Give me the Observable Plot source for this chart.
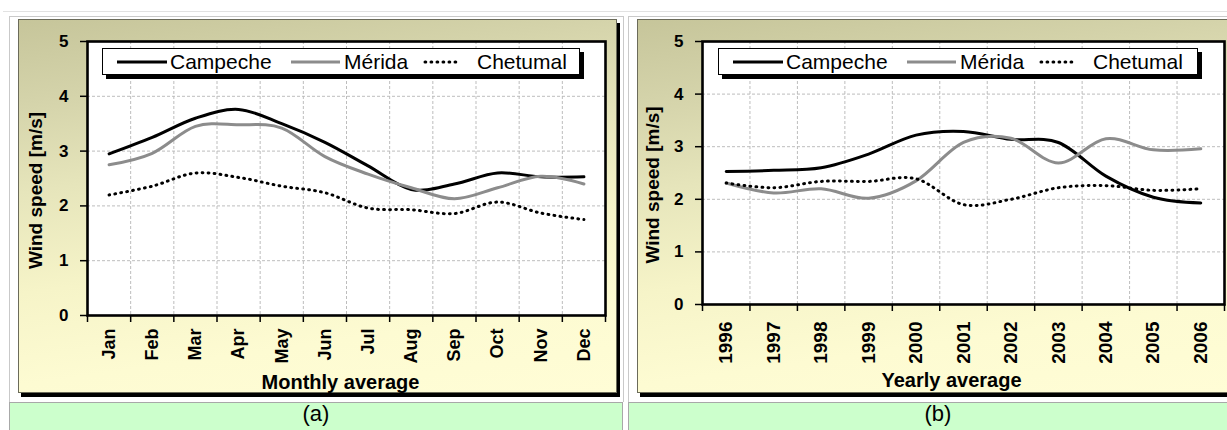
<!DOCTYPE html>
<html>
<head>
<meta charset="utf-8">
<script src="https://cdn.jsdelivr.net/npm/d3@7"></script>
<script src="https://cdn.jsdelivr.net/npm/@observablehq/plot@0.6"></script>
<style>
  body { margin: 0; width: 1227px; height: 430px; overflow: hidden; background: #fff; position: relative;
         font-family: "Liberation Sans", Arial, sans-serif; }
  .topline { position: absolute; left: 3px; top: 11px; width: 1224px; border-top: 1px solid #e2e2e2; }
  .cell { position: absolute; top: 16px; height: 386px; border: 1px solid #c9c9c9; border-bottom: none; box-sizing: border-box; }
  .frame { position: absolute; top: 19px; height: 374px; box-sizing: border-box;
           background: linear-gradient(172deg, #c6c59a 0%, #d4d3aa 18%, #e6e5bb 38%, #f6f4c8 60%, #fdfbd2 80%, #fffdd6 100%);
           box-shadow: inset 0 0 0 1px #6b6b5a, 3px 4px 0 #000; }
  .frame svg { position: absolute; left: 0; top: 0; }
  .legend { position: absolute; top: 29px; height: 27px; background: #fff; border: 1px solid #000;
            box-sizing: border-box; box-shadow: 4px 4px 0 #000; }
  .legend svg { position: absolute; left: 0; top: 0; }
  .legend span { position: absolute; top: 0; font-size: 21px; line-height: 25px; color: #000; white-space: nowrap; }
  .cap { position: absolute; top: 402px; height: 40px; background: #ccffcc; border: 1px solid #a8a8a8;
         box-sizing: border-box; text-align: center; font-size: 22px; line-height: 22px; color: #000; }
</style>
</head>
<body>
<div class="topline"></div>
<div class="cell" style="left:9px;width:615px"></div>
<div class="cell" style="left:628px;width:620px"></div>
<div class="frame" id="panelA" style="left:18px;width:599px"></div>
<div class="frame" id="panelB" style="left:637px;width:600px"></div>
<div class="cap" style="left:9px;width:614px">(a)</div>
<div class="cap" style="left:628px;width:620px">(b)</div>
<script>
// Monthly averages of wind speed [m/s]
const months = ["Jan", "Feb", "Mar", "Apr", "May", "Jun", "Jul", "Aug", "Sep", "Oct", "Nov", "Dec"];
const campecheMonthly = [2.95, 3.25, 3.60, 3.76, 3.50, 3.16, 2.73, 2.30, 2.40, 2.60, 2.53, 2.53];
const meridaMonthly   = [2.75, 2.96, 3.45, 3.48, 3.42, 2.90, 2.58, 2.33, 2.13, 2.33, 2.54, 2.40];
const chetumalMonthly = [2.20, 2.36, 2.60, 2.52, 2.36, 2.24, 1.96, 1.93, 1.86, 2.07, 1.87, 1.75];

// Yearly averages of wind speed [m/s]
const years = ["1996", "1997", "1998", "1999", "2000", "2001", "2002", "2003", "2004", "2005", "2006"];
const campecheYearly = [2.53, 2.55, 2.60, 2.86, 3.22, 3.29, 3.14, 3.08, 2.44, 2.04, 1.93];
const meridaYearly   = [2.31, 2.12, 2.20, 2.02, 2.35, 3.08, 3.16, 2.69, 3.15, 2.94, 2.96];
const chetumalYearly = [2.31, 2.22, 2.34, 2.34, 2.39, 1.90, 2.00, 2.22, 2.26, 2.17, 2.20];

const stations = ["Campeche", "Mérida", "Chetumal"];
const yTicks = [0, 1, 2, 3, 4, 5];
const yTitle = "Wind speed [m/s]";

const lineStyles = {
  "Campeche": {stroke: "#000", strokeWidth: 3},
  "Mérida":   {stroke: "#8c8c8c", strokeWidth: 3},
  "Chetumal": {stroke: "#000", strokeWidth: 3, strokeDasharray: "0.8,5.2", strokeLinecap: "round"}
};

function chart({labels, series, width, height, margins, xTitle, xTitleOffset, yTitleOffset, labelPad, labelSize}) {
  const n = labels.length;
  const centers = d3.range(n);
  const bounds = d3.range(n + 1).map(i => i - 0.5);
  const grid = {stroke: "#bdbdbd", strokeDasharray: "3,2", strokeWidth: 1};
  return Plot.plot({
    width, height, ...margins,
    style: {background: "transparent", fontFamily: '"Liberation Sans", Arial, sans-serif', fontWeight: "bold",
            fontSize: "17px", color: "#000"},
    x: {type: "linear", domain: [-0.5, n - 0.5]},
    y: {domain: [0, 5]},
    marks: [
      Plot.frame({fill: "#fff", stroke: null}),
      Plot.ruleY(yTicks.slice(1, -1), grid),
      Plot.ruleX(bounds.slice(1, -1), grid),
      ...series.map(([name, values]) =>
        Plot.line(values, {x: (d, i) => i, y: d => d, curve: "cardinal", tension: 0, ...lineStyles[name]})),
      Plot.frame({stroke: "#000", strokeWidth: 2.6}),
      Plot.axisY({ticks: yTicks, tickSize: 7, tickPadding: 12, tickFormat: d => String(d), fontSize: 17, strokeWidth: 1.5, label: null}),
      Plot.axisX({ticks: bounds, tickSize: 7, tickFormat: () => "", strokeWidth: 1.5, label: null}),
      Plot.axisX({ticks: centers, tickSize: 0, tickPadding: labelPad, tickRotate: -90,
                  tickFormat: i => labels[i], fontSize: labelSize, label: null}),
      Plot.text([yTitle], {frameAnchor: "left", textAnchor: "middle", lineAnchor: "middle",
                           dx: yTitleOffset[0], dy: yTitleOffset[1], rotate: -90, fontSize: 19}),
      Plot.text([xTitle], {frameAnchor: "bottom", textAnchor: "middle", lineAnchor: "middle",
                           dx: xTitleOffset[0], dy: xTitleOffset[1], fontSize: 20})
    ]
  });
}

function legend(left, width) {
  const box = document.createElement("div");
  box.className = "legend";
  box.style.left = left + "px";
  box.style.width = width + "px";
  const sw = d3.create("svg").attr("width", width).attr("height", 27);
  const swatches = [[14, 64, "Campeche"], [188, 237, "Mérida"], [322, 354, "Chetumal"]];
  for (const [x1, x2, name] of swatches) {
    const s = lineStyles[name];
    sw.append("line").attr("x1", x1).attr("x2", x2).attr("y1", 13).attr("y2", 13)
      .attr("stroke", s.stroke).attr("stroke-width", s.strokeWidth)
      .attr("stroke-linecap", s.strokeLinecap || null)
      .attr("stroke-dasharray", s.strokeDasharray || null);
  }
  box.appendChild(sw.node());
  const textLeft = [67, 241, 374];
  stations.forEach((name, k) => {
    const span = document.createElement("span");
    span.textContent = name;
    span.style.left = textLeft[k] + "px";
    box.appendChild(span);
  });
  return box;
}

const panelA = document.getElementById("panelA");
panelA.appendChild(chart({
  labels: months,
  series: [["Campeche", campecheMonthly], ["Mérida", meridaMonthly], ["Chetumal", chetumalMonthly]],
  width: 599, height: 374,
  margins: {marginLeft: 69, marginRight: 12, marginTop: 22, marginBottom: 78},
  xTitle: "Monthly average", xTitleOffset: [-6, 67], yTitleOffset: [-52, 12],
  labelPad: 13, labelSize: 18
}));
panelA.appendChild(legend(84, 478));

const panelB = document.getElementById("panelB");
panelB.appendChild(chart({
  labels: years,
  series: [["Campeche", campecheYearly], ["Mérida", meridaYearly], ["Chetumal", chetumalYearly]],
  width: 600, height: 374,
  margins: {marginLeft: 65, marginRight: 13, marginTop: 22, marginBottom: 89},
  xTitle: "Yearly average", xTitleOffset: [-12, 76], yTitleOffset: [-50, 12],
  labelPad: 17, labelSize: 19
}));
panelB.appendChild(legend(81, 480));
</script>
</body>
</html>
